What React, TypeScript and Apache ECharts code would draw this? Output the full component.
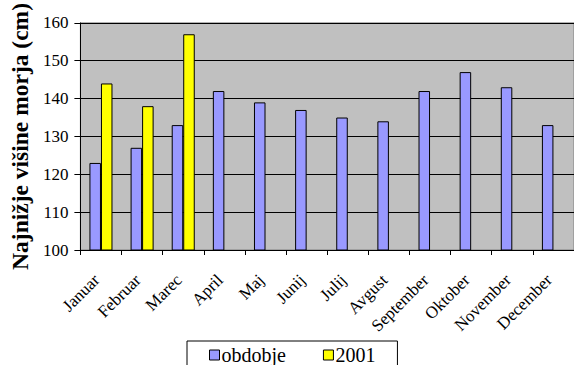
import React, { useEffect, useRef } from "react";
import * as echarts from "echarts";

const months = ["Januar", "Februar", "Marec", "April", "Maj", "Junij", "Julij", "Avgust", "September", "Oktober", "November", "December"];
const obdobje = [123, 127, 133, 142, 139, 137, 135, 134, 142, 147, 143, 133];
const y2001: (number | null)[] = [144, 138, 157, null, null, null, null, null, null, null, null, null];
const yTicks = { min: 100, max: 160, interval: 10 };

const FONT = "Liberation Serif";

export default function App() {
  const ref = useRef<HTMLDivElement>(null);
  useEffect(() => {
    if (!ref.current) return;
    const chart = echarts.init(ref.current, null, { renderer: "svg" });
    chart.setOption({
      animation: false,
      backgroundColor: "#ffffff",
      textStyle: { fontFamily: FONT, color: "#000" },
      grid: { left: 77, right: 0, top: 18, bottom: 115, show: true, backgroundColor: "#C0C0C0", borderColor: "#808080", borderWidth: 1 },
      legend: {
        left: 187,
        top: 341,
        orient: "horizontal",
        itemWidth: 10,
        itemHeight: 10,
        itemGap: 37,
        padding: [4, 22, 10, 22],
        borderColor: "#000",
        borderWidth: 1,
        backgroundColor: "#fff",
        textStyle: { fontFamily: FONT, fontSize: 20, color: "#000", padding: [0, 0, 0, -3] },
        icon: "rect",
        data: [
          { name: "obdobje", itemStyle: { borderColor: "#000", borderWidth: 1 } },
          { name: "2001", itemStyle: { borderColor: "#000", borderWidth: 1 } },
        ],
      },
      xAxis: {
        type: "category",
        data: months,
        axisLine: { lineStyle: { color: "#000", width: 1 } },
        axisTick: { show: true, length: 5, lineStyle: { color: "#000" } },
        axisLabel: { rotate: 45, fontFamily: FONT, fontSize: 17, color: "#000", margin: 23, padding: [0, 6, 0, 0], interval: 0 },
      },
      yAxis: {
        type: "value",
        min: yTicks.min,
        max: yTicks.max,
        interval: yTicks.interval,
        name: "Najnižje višine morja (cm)",
        nameLocation: "middle",
        nameGap: 47,
        nameTextStyle: { fontFamily: FONT, fontSize: 23.5, fontWeight: "bold", color: "#000" },
        axisLine: { show: true, lineStyle: { color: "#000", width: 1 } },
        axisTick: { show: true, length: 6, lineStyle: { color: "#000" } },
        axisLabel: { fontFamily: FONT, fontSize: 17, color: "#000", margin: 12 },
        splitLine: { show: true, lineStyle: { color: "#000", width: 1 } },
      },
      series: [
        {
          name: "obdobje",
          type: "bar",
          data: obdobje,
          barGap: "0%",
          barCategoryGap: "44%",
          itemStyle: { color: "#9999FF", borderColor: "#000", borderWidth: 1 },
        },
        {
          name: "2001",
          type: "bar",
          data: y2001,
          barGap: "0%",
          barCategoryGap: "44%",
          itemStyle: { color: "#FFFF00", borderColor: "#000", borderWidth: 1 },
        },
      ],
    });
    return () => chart.dispose();
  }, []);
  return <div ref={ref} style={{ width: 574, height: 365, position: "absolute", left: 0, top: 0 }} />;
}
